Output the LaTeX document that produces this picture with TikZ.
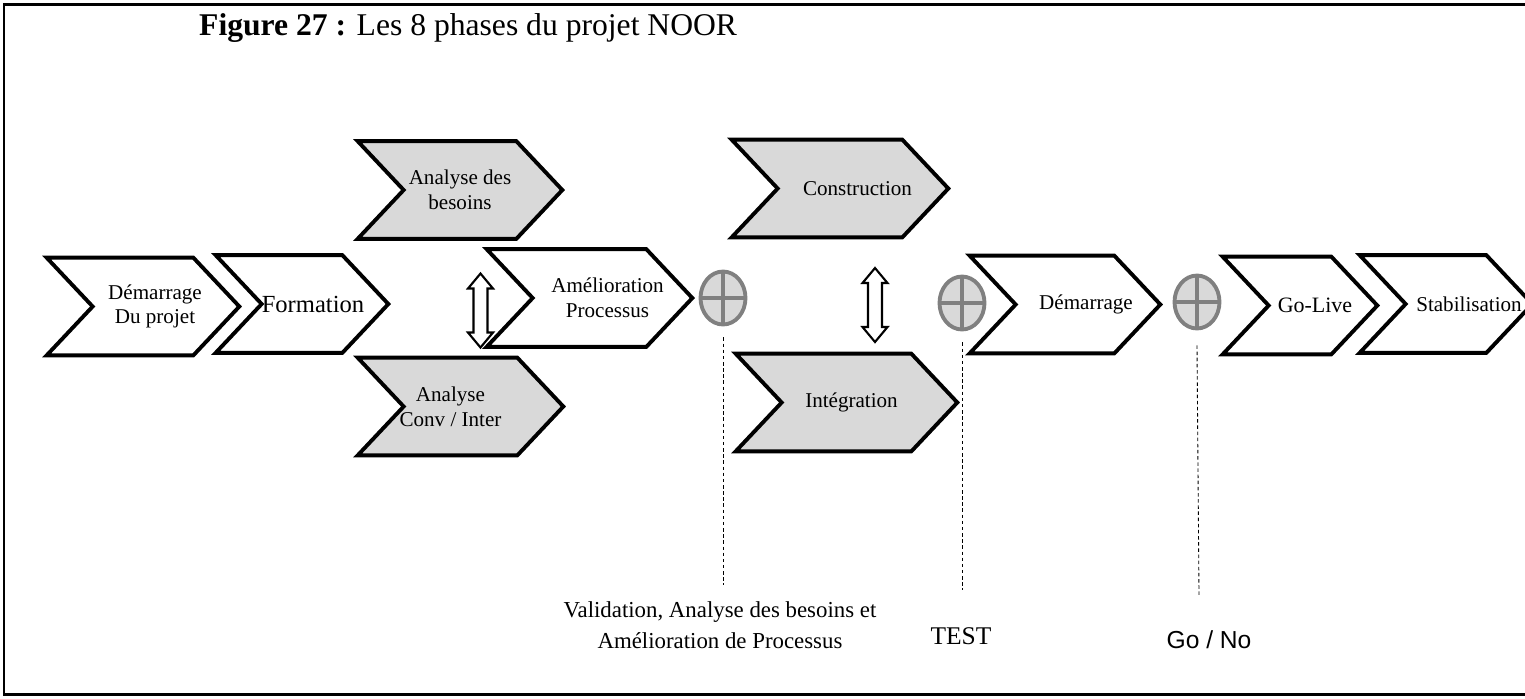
\documentclass[tikz,border=0pt]{standalone}
\usepackage{fontspec}
\setmainfont{Liberation Serif}
\newfontfamily\arialfont{Liberation Sans}
\usetikzlibrary{shapes.geometric, backgrounds}
\definecolor{phasegray}{HTML}{D9D9D9}
\definecolor{gategray}{HTML}{808080}

\begin{document}
\begin{tikzpicture}[x=0.02cm, y=-0.02cm, font=\fontsize{12}{14}\selectfont,
  phase/.style={rectangle, minimum height=1.94cm, align=center, inner sep=0pt},
  chevron/.style={draw, line width=2.2pt, line join=miter},
  gate/.style={ellipse, draw=gategray, line width=2.2pt, fill=phasegray, minimum width=0.9cm,
    minimum height=1.06cm, inner sep=0pt,
    path picture={\draw[gategray, line width=1.8pt]
      (path picture bounding box.north) -- (path picture bounding box.south)
      (path picture bounding box.west) -- (path picture bounding box.east);}},
  swaparrow/.pic={\draw[line width=1.2pt, fill=white] (0,-37) -- (12.5,-22) -- (7,-22) -- (7,22)
    -- (12.5,22) -- (0,37) -- (-12.5,22) -- (-7,22) -- (-7,-22) -- (-12.5,-22) -- cycle;},
  milestone/.style={line width=0.5pt, dash pattern=on 2pt off 1.5pt}]
  \useasboundingbox (0,0) rectangle (1525,698);
  \draw[line width=1.7pt] (1560,694.5) -- (4,694.5) -- (4,4.5) -- (1560,4.5);
  \node[anchor=base west, font=\fontsize{18}{20}\selectfont] (title) at (193,35) {\textbf{Figure 27 :} Les 8 phases du projet NOOR};

  % phases
  \node[phase, minimum width=3.84cm] (kickoff) at (143,306.5) {\hspace*{0.48cm}Démarrage\\\hspace*{0.48cm}Du projet};
  \node[phase, minimum width=3.44cm, font=\fontsize{14}{16}\selectfont] (training) at (302,304) {\hspace*{0.44cm}Formation};
  \node[phase, minimum width=4.08cm] (needs) at (460,190) {Analyse des\\besoins};
  \node[phase, minimum width=4.1cm] (process) at (589.5,298) {\hspace*{0.72cm}Amélioration\\\hspace*{0.72cm}Processus};
  \node[phase, minimum width=4.1cm] (conv) at (460.5,406.5) {Analyse\hspace*{0.4cm}\\Conv / Inter\hspace*{0.4cm}};
  \node[phase, minimum width=4.32cm] (build) at (840,188.5) {\hspace*{0.7cm}Construction};
  \node[phase, minimum width=4.42cm] (integ) at (846.5,402.5) {\hspace*{0.2cm}Intégration};
  \node[phase, minimum width=3.8cm] (start) at (1065,304.5) {\hspace*{0.84cm}Démarrage};
  \node[phase, minimum width=3.08cm, font=\fontsize{12.5}{14}\selectfont] (golive) at (1300,305.5) {\hspace*{0.6cm}Go-Live};
  \node[phase, minimum width=3.44cm] (stab) at (1446,304) {\hspace*{0.92cm}Stabilisation};

  \begin{scope}[on background layer]
    \foreach \n/\c in {kickoff/white, training/white, needs/phasegray, process/white, conv/phasegray,
        build/phasegray, integ/phasegray, start/white, golive/white, stab/white}
      \draw[chevron, fill=\c] (\n.north west) -- ([xshift=-0.92cm]\n.north east) -- (\n.east)
        -- ([xshift=-0.92cm]\n.south east) -- (\n.south west) -- ([xshift=0.92cm]\n.west) -- cycle;
  \end{scope}

  \pic at (480.5,310.5) {swaparrow};
  \pic at (875,305) {swaparrow};

  % gates
  \node[gate] (gate1) at (723,298) {};
  \node[gate] (gate2) at (962,303) {};
  \node[gate] (gate3) at (1197,302) {};
  \coordinate (end1) at (723,585);
  \coordinate (end2) at (962,590);
  \coordinate (end3) at (1199,595);
  \draw[milestone] ([yshift=-0.22cm]gate1.south) -- (end1);
  \draw[milestone] ([yshift=-0.22cm]gate2.south) -- (end2);
  \draw[milestone] ([yshift=-0.3cm]gate3.south) -- (end3);

  \node[align=center, font=\fontsize{13}{18}\selectfont] (valid) at (720,625) {Validation, Analyse des besoins et\\Amélioration de Processus};
  \node[font=\fontsize{14.5}{16}\selectfont] (test) at (961,636) {TEST};
  \node[font=\arialfont\fontsize{14}{16}\selectfont] (gonogo) at (1209,640) {Go / No};
\end{tikzpicture}
\end{document}
